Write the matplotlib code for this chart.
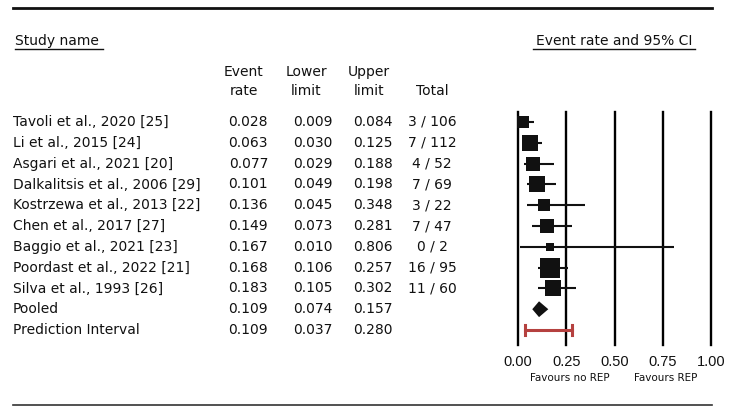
import matplotlib.pyplot as plt
import matplotlib.transforms as mtransforms
from matplotlib.lines import Line2D

plt.rcParams['font.family'] = ['DejaVu Sans']

# data
studies = ["Tavoli et al., 2020 [25]", "Li et al., 2015 [24]", "Asgari et al., 2021 [20]",
           "Dalkalitsis et al., 2006 [29]", "Kostrzewa et al., 2013 [22]", "Chen et al., 2017 [27]",
           "Baggio et al., 2021 [23]", "Poordast et al., 2022 [21]", "Silva et al., 1993 [26]"]
rate = [0.028, 0.063, 0.077, 0.101, 0.136, 0.149, 0.167, 0.168, 0.183]
lower = [0.009, 0.030, 0.029, 0.049, 0.045, 0.073, 0.010, 0.106, 0.105]
upper = [0.084, 0.125, 0.188, 0.198, 0.348, 0.281, 0.806, 0.257, 0.302]
totals = ["3 / 106", "7 / 112", "4 / 52", "7 / 69", "3 / 22", "7 / 47", "0 / 2", "16 / 95", "11 / 60"]
weights = [6.4, 13.5, 8.9, 15.2, 7.6, 11.8, 3.4, 19.0, 13.5]  # estimated relative weights (%)

pooled = (0.109, 0.074, 0.157)
pred_int = (0.109, 0.037, 0.280)
xticks = [0.00, 0.25, 0.50, 0.75, 1.00]

W, H = 750, 415
fig = plt.figure(figsize=(7.5, 4.15), dpi=100)

# forest axes (pixel box 518..711 x 112..345)
ax = fig.add_axes([518 / W, 1 - 345 / H, (711 - 518) / W, (345 - 112) / H])
n = len(studies)
ax.set_xlim(0, 1)
ax.set_ylim(10.72, -0.48)
for s in ax.spines.values():
    s.set_visible(False)
ax.set_yticks([])
ax.set_xticks(xticks)
ax.set_xticklabels([f"{t:.2f}" for t in xticks], fontsize=10.5, color="#111",
                   family="Liberation Sans")
ax.tick_params(axis="x", length=0, pad=7)
for t in xticks:
    ax.axvline(t, color="black", lw=1.7, zorder=1, clip_on=False)

ink = "#111111"
for i in range(n):
    ax.plot([lower[i], upper[i]], [i, i], color=ink, lw=1.5, zorder=2,
            solid_capstyle="butt", clip_on=False)
    side_px = 4.36 * weights[i] ** 0.5
    ax.plot(rate[i], i, marker="s", ms=side_px * 0.72, color=ink, mew=0, zorder=3, clip_on=False)

# pooled diamond
yp = n
ax.fill([pooled[1], pooled[0], pooled[2], pooled[0]], [yp, yp - 0.38, yp, yp + 0.38],
        color=ink, zorder=3, lw=0)
# prediction interval
red = "#b5413f"
ax.plot([pred_int[1], pred_int[2]], [n + 1, n + 1], color=red, lw=2.2, zorder=3)
for x in (pred_int[1], pred_int[2]):
    ax.plot([x, x], [n + 1 - 0.25, n + 1 + 0.25], color=red, lw=2.2, zorder=3)

# table text, x in figure pixels, y in row units
tr = mtransforms.blended_transform_factory(
    mtransforms.Affine2D().scale(1 / W, 1 / H) + fig.transFigure, ax.transData)
fs = 10
rows = studies + ["Pooled", "Prediction Interval"]
r_rate = rate + [pooled[0], pred_int[0]]
r_low = lower + [pooled[1], pred_int[1]]
r_up = upper + [pooled[2], pred_int[2]]
r_tot = totals + ["", ""]
for i, name in enumerate(rows):
    kw = dict(transform=tr, fontsize=fs, va="center", color=ink)
    fig.text(13, i, name, ha="left", **kw)
    fig.text(268, i, f"{r_rate[i]:.3f}", ha="right", **kw)
    fig.text(333, i, f"{r_low[i]:.3f}", ha="right", **kw)
    fig.text(393, i, f"{r_up[i]:.3f}", ha="right", **kw)
    fig.text(432, i, r_tot[i], ha="center", **kw)

# headers (figure pixels)
def ptext(x, y, s, **kw):
    fig.text(x / W, 1 - y / H, s, **kw)

hk = dict(fontsize=10, color=ink, va="center", ha="center")
ptext(244, 72, "Event", **hk)
ptext(244, 91, "rate", **hk)
ptext(306, 72, "Lower", **hk)
ptext(306, 91, "limit", **hk)
ptext(369, 72, "Upper", **hk)
ptext(369, 91, "limit", **hk)
ptext(432, 91, "Total", **hk)
ptext(15, 41, "Study name", fontsize=10, color=ink, va="center", ha="left")
ptext(614, 41, "Event rate and 95% CI", fontsize=10, color=ink, va="center", ha="center")
ptext(570, 378, "Favours no REP", fontsize=7.5, color=ink, va="center", ha="center")
ptext(666, 378, "Favours REP", fontsize=7.5, color=ink, va="center", ha="center")


def pline(x0, x1, y, lw, color=ink):
    fig.add_artist(Line2D([x0 / W, x1 / W], [1 - y / H, 1 - y / H], lw=lw, color=color,
                          transform=fig.transFigure))

pline(13, 712, 8, 2.0)
pline(15, 103, 49, 1.0)
pline(533, 695, 49, 1.0)
pline(13, 712, 405, 1.2, "#333333")

fig.savefig("out.png", dpi=100)
